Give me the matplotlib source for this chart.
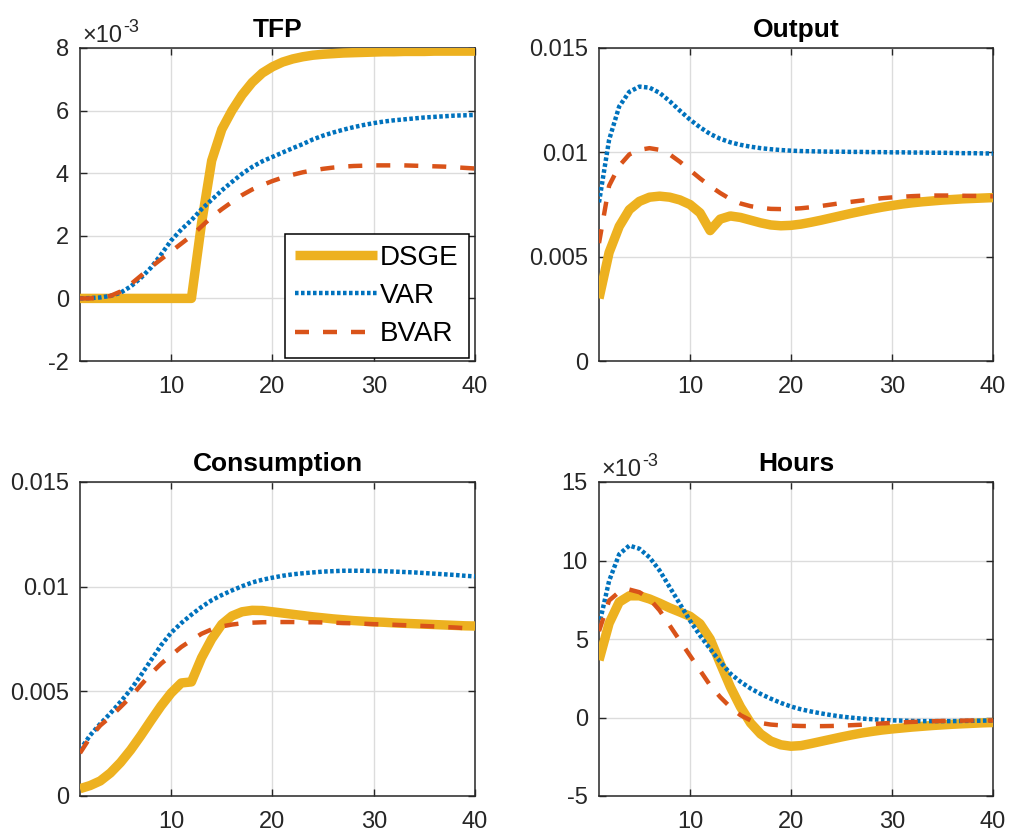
import numpy as np
import matplotlib
matplotlib.use("Agg")
import matplotlib.pyplot as plt
from matplotlib.ticker import FuncFormatter, MultipleLocator, FixedLocator

plt.rcParams['font.family'] = ['Liberation Sans', 'DejaVu Sans']
plt.rcParams['axes.unicode_minus'] = False

# ---------------- data (horizon 1..40) ----------------
horizon = np.arange(1, 41)
series_names = ["DSGE", "VAR", "BVAR"]
panel_titles = ["TFP", "Output", "Consumption", "Hours"]

# TFP (x1e-3)
tfp_dsge = np.array([0, 0, 0, 0, 0, 0, 0, 0, 0, 0, 0, 0,
                     2.4, 4.4, 5.4, 6.0, 6.5, 6.9, 7.2, 7.4, 7.55, 7.65, 7.72, 7.77, 7.8,
                     7.82, 7.84, 7.85, 7.86, 7.87, 7.88, 7.88, 7.89, 7.89, 7.89, 7.9, 7.9, 7.9, 7.9, 7.9]) * 1e-3
tfp_var = np.array([0, 0.01, 0.03, 0.08, 0.18, 0.38, 0.65, 0.98, 1.4, 1.85,
                    2.2, 2.5, 2.85, 3.15, 3.45, 3.72, 3.98, 4.2, 4.38, 4.52,
                    4.66, 4.8, 4.93, 5.08, 5.2, 5.3, 5.39, 5.47, 5.54, 5.6,
                    5.65, 5.69, 5.72, 5.75, 5.78, 5.8, 5.82, 5.84, 5.85, 5.86]) * 1e-3
tfp_bvar = np.array([0, 0, 0.02, 0.08, 0.22, 0.45, 0.72, 1.0, 1.25, 1.5,
                     1.75, 2.0, 2.3, 2.6, 2.85, 3.08, 3.3, 3.48, 3.62, 3.75,
                     3.86, 3.95, 4.03, 4.09, 4.14, 4.18, 4.21, 4.23, 4.24, 4.25,
                     4.25, 4.25, 4.25, 4.24, 4.23, 4.22, 4.21, 4.19, 4.17, 4.15]) * 1e-3

# Output
out_dsge = np.array([3.0, 5.2, 6.45, 7.25, 7.65, 7.85, 7.9, 7.85, 7.72, 7.5,
                     7.1, 6.25, 6.8, 6.95, 6.88, 6.75, 6.62, 6.52, 6.48, 6.5,
                     6.56, 6.65, 6.75, 6.86, 6.97, 7.08, 7.18, 7.28, 7.37, 7.45,
                     7.52, 7.58, 7.63, 7.67, 7.71, 7.74, 7.77, 7.79, 7.81, 7.83]) * 1e-3
out_var = np.array([7.6, 10.6, 12.2, 12.9, 13.15, 13.1, 12.85, 12.45, 12.0, 11.57,
                    11.2, 10.88, 10.65, 10.48, 10.36, 10.27, 10.2, 10.15, 10.11, 10.08,
                    10.06, 10.05, 10.04, 10.03, 10.03, 10.02, 10.02, 10.01, 10.01, 10.0,
                    10.0, 9.99, 9.99, 9.98, 9.98, 9.97, 9.96, 9.96, 9.95, 9.94]) * 1e-3
out_bvar = np.array([5.65, 8.4, 9.35, 9.9, 10.12, 10.2, 10.12, 9.9, 9.55, 9.15,
                     8.75, 8.38, 8.05, 7.76, 7.55, 7.42, 7.34, 7.29, 7.28, 7.29,
                     7.32, 7.37, 7.43, 7.5, 7.57, 7.63, 7.69, 7.75, 7.8, 7.84,
                     7.87, 7.9, 7.92, 7.93, 7.93, 7.93, 7.92, 7.91, 7.9, 7.89]) * 1e-3

# Consumption
con_dsge = np.array([0.35, 0.5, 0.72, 1.1, 1.6, 2.2, 2.88, 3.6, 4.3, 4.92,
                     5.4, 5.45, 6.6, 7.5, 8.2, 8.6, 8.8, 8.87, 8.86, 8.8,
                     8.74, 8.68, 8.62, 8.56, 8.51, 8.46, 8.42, 8.38, 8.35, 8.32,
                     8.3, 8.27, 8.25, 8.23, 8.21, 8.19, 8.17, 8.15, 8.13, 8.12]) * 1e-3
con_var = np.array([2.2, 2.9, 3.45, 3.95, 4.5, 5.08, 5.76, 6.48, 7.2, 7.8,
                    8.26, 8.66, 9.03, 9.35, 9.6, 9.82, 10.02, 10.2, 10.33, 10.43,
                    10.52, 10.59, 10.64, 10.68, 10.72, 10.74, 10.76, 10.76, 10.76, 10.75,
                    10.74, 10.72, 10.7, 10.68, 10.65, 10.62, 10.59, 10.56, 10.52, 10.49]) * 1e-3
con_bvar = np.array([2.05, 2.8, 3.37, 3.78, 4.25, 4.73, 5.29, 5.84, 6.32, 6.72,
                     7.12, 7.44, 7.75, 7.96, 8.1, 8.19, 8.25, 8.28, 8.3, 8.31,
                     8.31, 8.31, 8.3, 8.3, 8.29, 8.28, 8.26, 8.25, 8.23, 8.21,
                     8.2, 8.18, 8.16, 8.14, 8.12, 8.1, 8.07, 8.05, 8.02, 7.99]) * 1e-3

# Hours (x1e-3)
hrs_dsge = np.array([3.65, 6.0, 7.35, 7.75, 7.75, 7.55, 7.28, 6.98, 6.72, 6.45,
                     5.97, 5.0, 3.45, 1.95, 0.68, -0.35, -1.05, -1.5, -1.74, -1.83,
                     -1.79, -1.66, -1.52, -1.38, -1.24, -1.11, -0.99, -0.89, -0.8, -0.73,
                     -0.67, -0.61, -0.56, -0.51, -0.47, -0.43, -0.4, -0.37, -0.34, -0.32]) * 1e-3
hrs_var = np.array([5.85, 8.7, 10.4, 10.95, 10.75, 10.2, 9.36, 8.3, 7.24, 6.18,
                    5.22, 4.37, 3.55, 2.8, 2.28, 1.85, 1.5, 1.2, 0.93, 0.7,
                    0.52, 0.38, 0.26, 0.15, 0.06, -0.01, -0.07, -0.11, -0.15, -0.18,
                    -0.2, -0.22, -0.23, -0.23, -0.23, -0.23, -0.22, -0.21, -0.2, -0.19]) * 1e-3
hrs_bvar = np.array([5.5, 7.45, 8.0, 8.15, 7.98, 7.56, 6.82, 5.86, 4.9, 3.95,
                     3.0, 2.05, 1.3, 0.66, 0.15, -0.18, -0.35, -0.45, -0.5, -0.52,
                     -0.54, -0.55, -0.55, -0.54, -0.52, -0.49, -0.46, -0.42, -0.38, -0.34,
                     -0.31, -0.28, -0.26, -0.24, -0.22, -0.21, -0.2, -0.19, -0.19, -0.19]) * 1e-3

panel_data = [
    (tfp_dsge, tfp_var, tfp_bvar),
    (out_dsge, out_var, out_bvar),
    (con_dsge, con_var, con_bvar),
    (hrs_dsge, hrs_var, hrs_bvar),
]
ylims = [(-2e-3, 8e-3), (0, 0.015), (0, 0.015), (-5e-3, 15e-3)]
ysteps = [2e-3, 0.005, 0.005, 5e-3]
use_sci = [True, False, False, True]
xticks = [10, 20, 30, 40]

# ---------------- styling ----------------
c_dsge = '#EDB120'
c_var = '#0072BD'
c_bvar = '#D95319'
axcol = '#262626'
TICK_FS = 17

W, H = 1009, 834
fig = plt.figure(figsize=(W / 100, H / 100), dpi=100)

boxes_px = [(80, 48, 475, 361), (599, 48, 993, 361),
            (80, 482, 475, 796), (599, 482, 993, 796)]


def sci_fmt(val, pos):
    return '%g' % round(val * 1e3, 6)


def plain_fmt(val, pos):
    return '%g' % round(val, 6)


for i, (x0, y0, x1, y1) in enumerate(boxes_px):
    ax = fig.add_axes([x0 / W, 1 - y1 / H, (x1 - x0) / W, (y1 - y0) / H])
    d, v, b = panel_data[i]
    ax.plot(horizon, d, color=c_dsge, lw=6.8, solid_capstyle='butt',
            solid_joinstyle='round', label=series_names[0], zorder=3)
    ax.plot(horizon, v, color=c_var, lw=3.2, linestyle=(0, (0.8, 0.55)),
            label=series_names[1], zorder=4)
    ax.plot(horizon, b, color=c_bvar, lw=3.2, linestyle=(0, (3.15, 3.15)),
            label=series_names[2], zorder=4)

    ax.set_xlim(1, 40)
    ax.set_ylim(*ylims[i])
    ax.xaxis.set_major_locator(FixedLocator(xticks))
    ax.yaxis.set_major_locator(MultipleLocator(ysteps[i]))
    ax.yaxis.set_major_formatter(FuncFormatter(sci_fmt if use_sci[i] else plain_fmt))

    ax.grid(True, color='#dcdcdc', lw=1.0)
    ax.set_axisbelow(True)
    for s in ax.spines.values():
        s.set_color(axcol)
        s.set_linewidth(1.1)
    ax.tick_params(direction='in', length=5, width=1.0, colors=axcol, labelsize=TICK_FS,
                   top=True, right=True)
    ax.tick_params(axis='x', pad=11)
    ax.tick_params(axis='y', pad=8)
    ax.set_title(panel_titles[i], fontsize=19, fontweight='bold', pad=8, color='black')

    if use_sci[i]:
        base = ax.annotate('\u00d710', xy=(0, 1), xycoords='axes fraction',
                           xytext=(2, 4), textcoords='offset points',
                           ha='left', va='baseline', fontsize=TICK_FS, color=axcol)
        ax.annotate('-3', xy=(1, 0), xycoords=base, xytext=(0, 11),
                    textcoords='offset points', ha='left', va='baseline',
                    fontsize=13, color=axcol)

    if i == 0:
        leg = ax.legend(loc='lower right', bbox_to_anchor=(0.985, 0.01), fontsize=20,
                        fancybox=False, framealpha=1, edgecolor='black',
                        handlelength=2.95, handletextpad=0.1, borderpad=0.38,
                        labelspacing=0.44, borderaxespad=0)
        leg.get_frame().set_linewidth(1.1)
        leg.set_zorder(10)

fig.savefig('out.png', dpi=100)
